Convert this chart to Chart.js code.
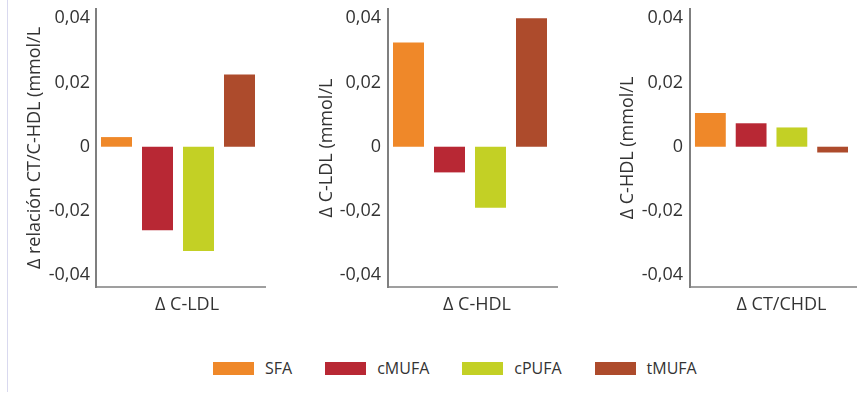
<!DOCTYPE html>
<html>
<head>
<meta charset="utf-8">
<script src="https://cdn.jsdelivr.net/npm/chart.js@4.4.0/dist/chart.umd.min.js"></script>
<style>
  html, body { margin: 0; padding: 0; background: #fff; }
  body { width: 857px; height: 397px; position: relative; overflow: hidden; font-family: "Open Sans", sans-serif; }
  .rule { position: absolute; left: 7px; top: 0; width: 1px; height: 392px; background: #d9d9ef; }
  canvas { position: absolute; top: 0; }
  #legend { position: absolute; left: 213px; top: 358px; height: 20px; display: flex; align-items: center; gap: 33px; }
  .item { display: flex; align-items: center; gap: 11px; font-size: 16px; color: #333; }
  .sw { width: 41px; height: 13px; }
</style>
</head>
<body>
<div class="rule"></div>
<canvas id="p0" width="290" height="330" style="left:0px"></canvas>
<canvas id="p1" width="290" height="330" style="left:290px"></canvas>
<canvas id="p2" width="277" height="330" style="left:580px"></canvas>
<div id="legend"></div>
<script>
// Fatty-acid groups and their changes per outcome (one value per panel)
const series = ['SFA', 'cMUFA', 'cPUFA', 'tMUFA'];
const sfaValues   = [0.003,   0.0325,  0.0105];
const cmufaValues = [-0.026, -0.008,   0.0073];
const cpufaValues = [-0.0325, -0.019,  0.006];
const tmufaValues = [0.0225,  0.040,  -0.0018];

// Panel axis texts
const xLabels = ['Δ C-LDL', 'Δ C-HDL', 'Δ CT/CHDL'];
const yTitles = ['Δ relación CT/C-HDL (mmol/L', 'Δ C-LDL (mmol/L', 'Δ C-HDL (mmol/L'];
const yTicks = [-0.04, -0.02, 0, 0.02, 0.04];

const seriesColors = ['#ef8829', '#b82834', '#c3d025', '#ad4b2c'];
const valuesBySeries = [sfaValues, cmufaValues, cpufaValues, tmufaValues];

// Per-panel layout (canvas pixel units)
const panelLayout = [
  { axisLeft: 96, titleCenter: 35, tickPad: 6, padRight: 30, labelOffset: 9, extend: 6 },
  { axisLeft: 98, titleCenter: 37, tickPad: 7, padRight: 28, labelOffset: 7, extend: 6 },
  { axisLeft: 110, titleCenter: 48, tickPad: 7, padRight: 4, labelOffset: 10, extend: 4 }
];

const textColor = '#333';
const axisColor = '#7f7f7f';
const FONT = '"Open Sans", sans-serif';
const FONT_SIZE = 18;
const HALF_LINE = FONT_SIZE * 1.2 / 2;

// Bottom axis line, slightly longer than the plotting area
const bottomLine = {
  id: 'bottomLine',
  afterDatasetsDraw(chart, args, opts) {
    const { ctx, chartArea: a } = chart;
    ctx.save();
    ctx.strokeStyle = axisColor;
    ctx.lineWidth = 1.6;
    ctx.beginPath();
    ctx.moveTo(a.left - 1, a.bottom);
    ctx.lineTo(a.right + opts.extend, a.bottom);
    ctx.stroke();
    ctx.restore();
  }
};

function formatTick(v) {
  return v === 0 ? '0' : v.toFixed(2).replace('.', ',');
}

xLabels.forEach((xl, i) => {
  const L = panelLayout[i];
  const canvas = document.getElementById('p' + i);
  new Chart(canvas, {
    type: 'bar',
    data: {
      labels: [xl],
      datasets: series.map((name, s) => ({
        label: name,
        data: [valuesBySeries[s][i]],
        backgroundColor: seriesColors[s],
        borderWidth: 0,
        categoryPercentage: 1.0,
        barPercentage: 0.756
      }))
    },
    options: {
      responsive: false,
      devicePixelRatio: 1,
      animation: false,
      layout: { padding: { top: 9, left: 0, right: L.padRight, bottom: 0 } },
      plugins: {
        legend: { display: false },
        tooltip: { enabled: false },
        bottomLine: { extend: L.extend }
      },
      scales: {
        x: {
          type: 'category',
          grid: { display: false, drawTicks: false },
          border: { display: false },
          ticks: {
            color: textColor,
            font: { family: FONT, size: FONT_SIZE },
            padding: 7,
            labelOffset: L.labelOffset,
            maxRotation: 0
          },
          afterFit(scale) { scale.height = 43; scale.paddingLeft = 0; scale.paddingRight = 0; }
        },
        y: {
          min: -0.0437,
          max: 0.0429,
          grid: { display: false, drawTicks: false },
          border: { display: true, color: axisColor, width: 2 },
          ticks: {
            color: textColor,
            font: { family: FONT, size: FONT_SIZE },
            padding: L.tickPad,
            callback: (v) => formatTick(v)
          },
          afterBuildTicks(scale) { scale.ticks = yTicks.map(v => ({ value: v })); },
          afterFit(scale) {
            scale.width = L.axisLeft;
            scale.paddingTop = 0;
            scale.paddingBottom = 0;
          },
          title: {
            display: true,
            text: yTitles[i],
            color: textColor,
            font: { family: FONT, size: FONT_SIZE },
            padding: { top: L.titleCenter - HALF_LINE, bottom: 0 }
          }
        }
      }
    },
    plugins: [bottomLine]
  });
});

// Shared legend
const legend = document.getElementById('legend');
series.forEach((name, s) => {
  const item = document.createElement('div');
  item.className = 'item';
  const sw = document.createElement('span');
  sw.className = 'sw';
  sw.style.background = seriesColors[s];
  const tx = document.createElement('span');
  tx.textContent = name;
  item.appendChild(sw);
  item.appendChild(tx);
  legend.appendChild(item);
});
</script>
</body>
</html>
